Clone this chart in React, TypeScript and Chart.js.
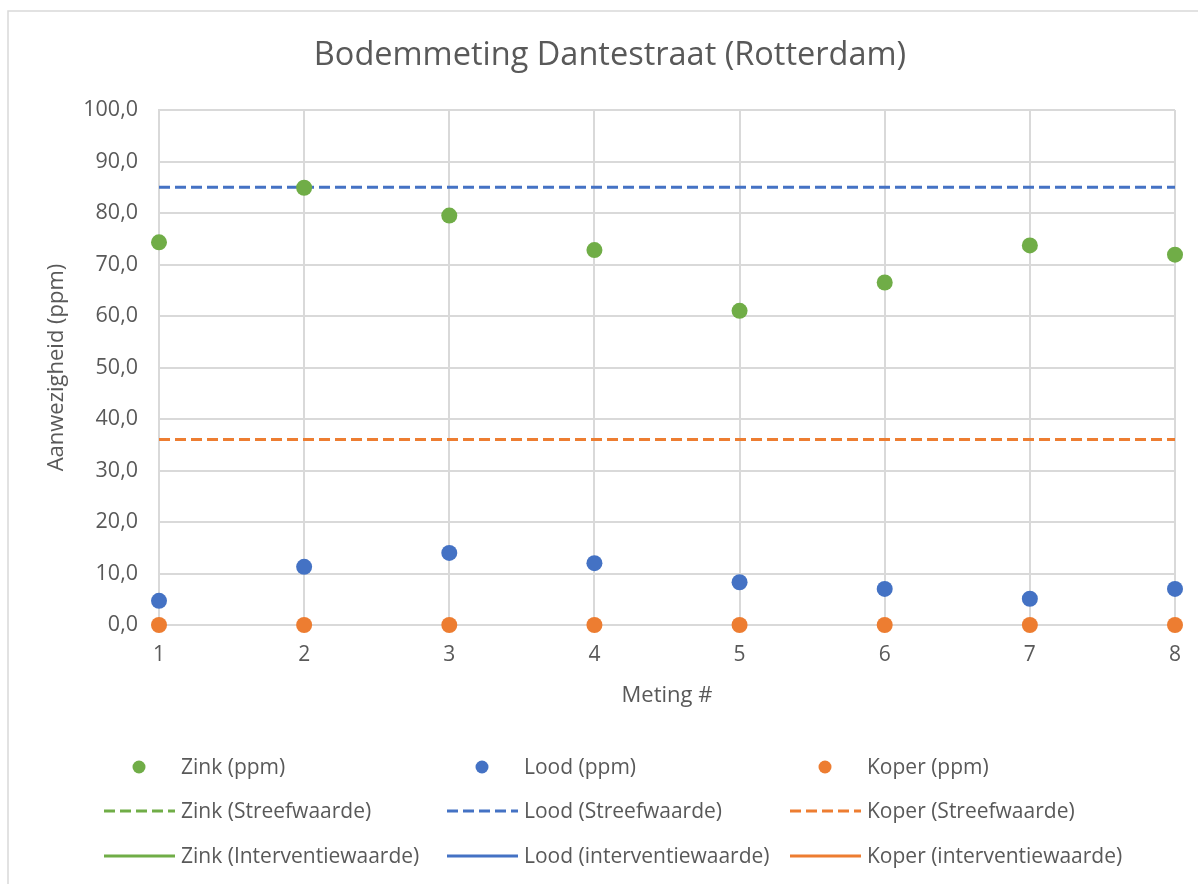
import React, { useEffect, useRef } from "react";
import { Chart, registerables } from "chart.js";

Chart.register(...registerables);

const metingen = [1, 2, 3, 4, 5, 6, 7, 8];
const zinkPpm = [74.3, 84.9, 79.5, 72.8, 61.0, 66.5, 73.7, 71.9];
const loodPpm = [4.7, 11.3, 14.0, 12.0, 8.3, 7.0, 5.1, 7.0];
const koperPpm = [0, 0, 0, 0, 0, 0, 0, 0];
const streefwaarden = { zink: 140, lood: 85, koper: 36 };
const interventiewaarden = { zink: 720, lood: 530, koper: 190 };
const yTicks = [0, 10, 20, 30, 40, 50, 60, 70, 80, 90, 100];

const GREEN = "#70ad47";
const BLUE = "#4472c4";
const ORANGE = "#ed7d31";
const TEXT = "#595959";
const GRID = "#d9d9d9";
const FONT = "'Open Sans', 'Noto Sans', sans-serif";

const pts = (vals: number[]) => metingen.map((x, i) => ({ x, y: vals[i] }));
const flat = (v: number) => metingen.map((x) => ({ x, y: v }));

const decorPlugin = {
  id: "decor",
  beforeDraw(chart: any) {
    const ctx = chart.ctx;
    ctx.save();
    ctx.fillStyle = "#ffffff";
    ctx.fillRect(0, 0, chart.width, chart.height);
    ctx.strokeStyle = GRID;
    ctx.lineWidth = 1.5;
    ctx.strokeRect(8, 11, chart.width + 10, chart.height + 10);
    ctx.restore();
  },
  afterDraw(chart: any) {
    const ctx = chart.ctx;
    ctx.save();
    // title
    ctx.fillStyle = TEXT;
    ctx.font = `32.5px ${FONT}`;
    ctx.textAlign = "center";
    ctx.textBaseline = "middle";
    ctx.fillText("Bodemmeting Dantestraat (Rotterdam)", 610, 56);

    // legend grid
    const colX = [104, 447, 790];
    const rowY = [767, 811, 856];
    ctx.font = `21px ${FONT}`;
    ctx.textAlign = "left";
    chart.data.datasets.forEach((ds: any, i: number) => {
      const col = i % 3;
      const row = Math.floor(i / 3);
      const x0 = colX[col];
      const y = rowY[row];
      if (ds.type === "scatter") {
        ctx.fillStyle = ds.backgroundColor;
        ctx.beginPath();
        ctx.arc(x0 + 35, y, 6.5, 0, Math.PI * 2);
        ctx.fill();
      } else {
        ctx.strokeStyle = ds.borderColor;
        ctx.lineWidth = 3;
        ctx.setLineDash(ds.borderDash || []);
        ctx.beginPath();
        ctx.moveTo(x0, y);
        ctx.lineTo(x0 + 71, y);
        ctx.stroke();
        ctx.setLineDash([]);
      }
      ctx.fillStyle = TEXT;
      ctx.fillText(ds.label, x0 + 77, y + 1);
    });
    ctx.restore();
  },
};

export default function App() {
  const ref = useRef<HTMLCanvasElement>(null);
  useEffect(() => {
    if (!ref.current) return;
    const scatter = (label: string, vals: number[], color: string) => ({
      type: "scatter" as const,
      label,
      data: pts(vals),
      backgroundColor: color,
      borderColor: color,
      pointRadius: 8,
      pointHoverRadius: 8,
      borderWidth: 0,
      clip: false,
    });
    const line = (label: string, v: number, color: string, dashed: boolean) => ({
      type: "line" as const,
      label,
      data: flat(v),
      borderColor: color,
      backgroundColor: color,
      borderWidth: 3,
      borderDash: dashed ? [11, 5] : [],
      pointRadius: 0,
      fill: false,
      clip: 0,
    });
    const chart = new Chart(ref.current, {
      type: "scatter",
      data: {
        datasets: [
          scatter("Zink (ppm)", zinkPpm, GREEN),
          scatter("Lood (ppm)", loodPpm, BLUE),
          scatter("Koper (ppm)", koperPpm, ORANGE),
          line("Zink (Streefwaarde)", streefwaarden.zink, GREEN, true),
          line("Lood (Streefwaarde)", streefwaarden.lood, BLUE, true),
          line("Koper (Streefwaarde)", streefwaarden.koper, ORANGE, true),
          line("Zink (Interventiewaarde)", interventiewaarden.zink, GREEN, false),
          line("Lood (interventiewaarde)", interventiewaarden.lood, BLUE, false),
          line("Koper (interventiewaarde)", interventiewaarden.koper, ORANGE, false),
        ] as any,
      },
      options: {
        animation: false,
        responsive: false,
        maintainAspectRatio: false,
        layout: { padding: { left: 10, top: 110, right: 22, bottom: 884 - 625 - 84 } },
        plugins: {
          legend: { display: false },
          title: { display: false },
          tooltip: { enabled: false },
        },
        scales: {
          x: {
            type: "linear",
            min: 1,
            max: 8,
            afterFit: (s: any) => {
              s.height = 84;
            },
            ticks: {
              stepSize: 1,
              color: TEXT,
              padding: 17,
              font: { family: FONT, size: 21 },
              callback: (v: any) => String(v),
            },
            grid: { color: GRID, lineWidth: 2, drawTicks: false },
            border: { color: GRID, width: 2 },
            title: {
              display: true,
              text: "Meting #",
              color: TEXT,
              font: { family: FONT, size: 22 },
              padding: { top: 0, bottom: 0 },
            },
          },
          y: {
            type: "linear",
            min: 0,
            max: 100,
            afterFit: (s: any) => {
              s.width = 159 - 10;
            },
            afterBuildTicks: (s: any) => {
              s.ticks = yTicks.map((v) => ({ value: v }));
            },
            ticks: {
              color: TEXT,
              padding: 21,
              font: { family: FONT, size: 21.5 },
              callback: (v: any) => Number(v).toFixed(1).replace(".", ","),
            },
            grid: { color: GRID, lineWidth: 2, drawTicks: false },
            border: { color: GRID, width: 2 },
            title: {
              display: true,
              text: "Aanwezigheid (ppm)",
              color: TEXT,
              font: { family: FONT, size: 22 },
              padding: { top: 34, bottom: 0 },
            },
          },
        },
      },
      plugins: [decorPlugin],
    });
    return () => chart.destroy();
  }, []);
  return (
    <div style={{ position: "fixed", left: 0, top: 0, width: 1198, height: 884, background: "#fff" }}>
      <canvas ref={ref} width={1198} height={884} style={{ display: "block" }} />
    </div>
  );
}
